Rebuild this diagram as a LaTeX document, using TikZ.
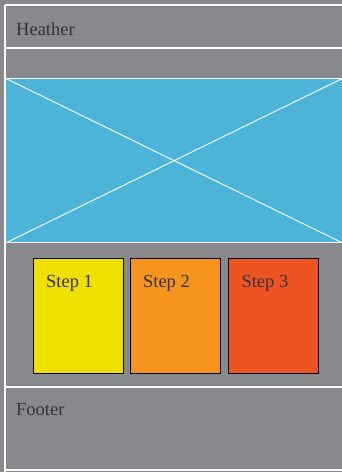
\documentclass[tikz,border=0pt]{standalone}
\usepackage{fontspec}
\setmainfont{Liberation Serif}
\usetikzlibrary{positioning}
\definecolor{slate}{RGB}{136,137,141}
\definecolor{sky}{RGB}{75,180,216}
\definecolor{lemon}{RGB}{240,224,0}
\definecolor{tangerine}{RGB}{247,148,29}
\definecolor{brick}{RGB}{240,83,35}
\definecolor{ink}{RGB}{52,52,56}
\tikzset{
  rule/.style={draw=white,line width=1.3pt},
  caption/.style={font=\fontsize{18.5}{21}\selectfont,text=ink,inner sep=0pt,anchor=base west},
  stepbox/.style={draw=black,fill=#1,line width=0.9pt,minimum width=90pt,
    minimum height=115pt,inner sep=0pt},
  stepbox/.default=lemon,
}

\begin{document}
\begin{tikzpicture}[x=1pt,y=-1pt]
  \useasboundingbox (0,0) rectangle (342,472);
  \fill[slate] (0,0) rectangle (342,472);
  % frame rules
  \coordinate (tl) at (5,5);
  \coordinate (bl) at (5,472);
  \draw[rule] (tl) -- (bl);
  \foreach \y in {5,48,387,470} \draw[rule] (5,\y) -- (342,\y);
  % hero image placeholder
  \node[rule,fill=sky,minimum width=337pt,minimum height=164pt,inner sep=0pt,
    anchor=north west] (hero) at (5,78) {};
  \draw[rule,line width=0.9pt] (hero.north west) -- (hero.south east);
  \draw[rule,line width=0.9pt] (hero.south west) -- (hero.north east);
  % steps
  \node[stepbox=lemon,anchor=north west] (step1) at (33,258) {};
  \node[stepbox=tangerine,right=6pt of step1] (step2) {};
  \node[stepbox=brick,right=7.5pt of step2] (step3) {};
  \foreach \i in {1,2,3}
    \node[caption] (lab\i) at ([xshift=13pt,yshift=-29pt]step\i.north west) {Step \i};
  % header / footer text
  \node[caption] (head) at (16,35) {Heather};
  \node[caption] (foot) at (16,415) {Footer};
\end{tikzpicture}
\end{document}
